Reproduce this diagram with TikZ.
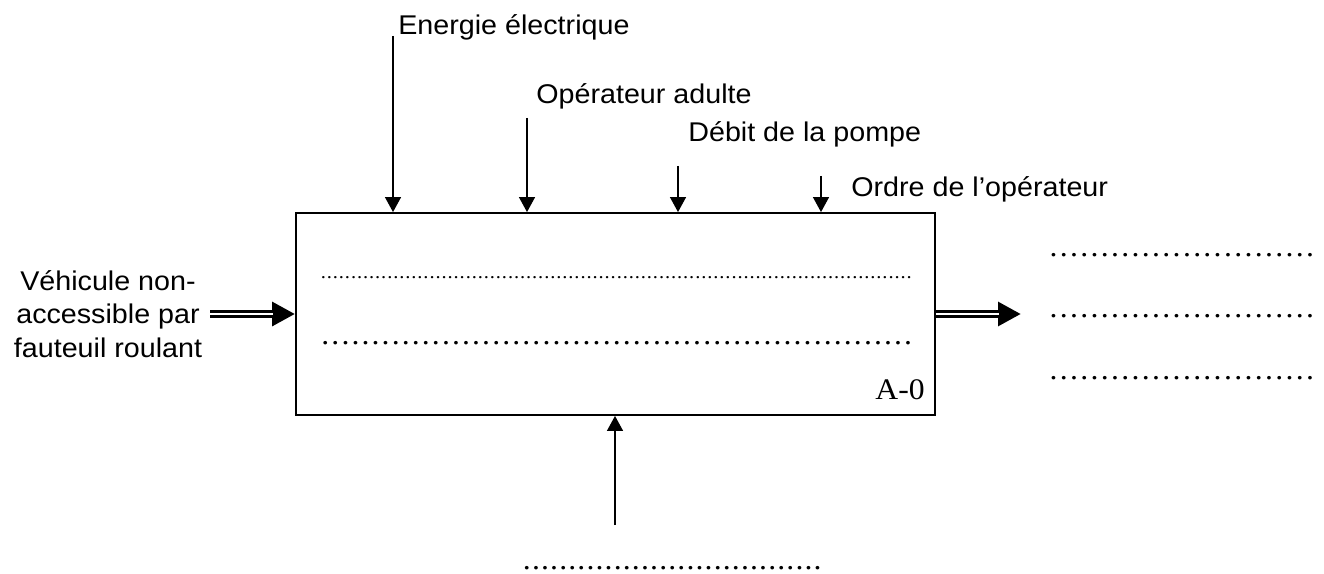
\documentclass[tikz,border=0pt]{standalone}
\usepackage{fontspec}
\setmainfont{Liberation Sans}[FakeStretch=1.06]
\newfontfamily\tnr{Liberation Serif}[FakeStretch=1.06]
\usepackage{tikz}
\usetikzlibrary{arrows.meta, positioning}
% a row of dots to be filled in
\newcommand{\dotrow}[2]{\hbox to #1{\xleaders\hbox to #2{\hss.\hss}\hfill}}

\begin{document}
\begin{tikzpicture}[x=0.02cm, y=-0.02cm,
    every node/.style={font=\fontsize{15.4}{19}\selectfont},
    lbl/.style={anchor=base west, inner sep=0pt},
    ctrl/.style={line width=0.8pt, -{Triangle[length=0.3cm, width=0.32cm]}},
    flowtip/.style={line width=0.17cm, -{Triangle[length=0.46cm, width=0.46cm]}},
    flowgap/.style={white, line width=0.055cm, shorten >=0.44cm},
    dots/.style={anchor=west, inner sep=0pt, font=\tnr\fontsize{17}{17}\selectfont}]
  \useasboundingbox (0,0) rectangle (1324,574);
  % A-0 box
  \node[draw, line width=1.1pt, minimum width=12.78cm, minimum height=4.04cm, inner sep=0pt] (box) at (615.5,314) {};
  \node[anchor=base east, inner sep=0pt, font=\tnr\fontsize{17}{17}\selectfont] (aid) at (925,399) {A-0};
  \node[dots, font=\tnr\fontsize{11}{11}\selectfont] (fn1) at (320,278) {\dotrow{11.84cm}{0.12cm}};
  \node[dots] (fn2) at (320,343) {\dotrow{11.86cm}{0.2cm}};
  % controls on top
  \node[lbl] (ee) at (398,35)  {Energie électrique};
  \node[lbl] (oa) at (536,104) {Opérateur adulte};
  \node[lbl] (dp) at (688,142) {Débit de la pompe};
  \node[lbl] (oo) at (851,196) {Ordre de l’opérateur};
  \coordinate (ee0) at (393,36);
  \coordinate (oa0) at (527,118);
  \coordinate (dp0) at (678,166);
  \coordinate (oo0) at (821,176);
  \foreach \c in {ee0,oa0,dp0,oo0}
    \draw[ctrl] (\c) -- (\c |- box.north);
  % input
  \node[align=center, inner xsep=0.16cm, inner ysep=0pt] (vin) at (108,314) {Véhicule non-\\accessible par\\fauteuil roulant};
  \draw[flowtip] (vin.east) -- (box.west);
  \draw[flowgap] (vin.east) -- (box.west);
  % output
  \coordinate (outtip) at (1021,314);
  \draw[flowtip] (box.east) -- (outtip);
  \draw[flowgap] (box.east) -- (outtip);
  \node[dots] (out1) at (1048,255) {\dotrow{5.34cm}{0.198cm}};
  \node[dots] (out2) at (1048,316) {\dotrow{5.34cm}{0.198cm}};
  \node[dots] (out3) at (1048,378) {\dotrow{5.34cm}{0.198cm}};
  % mechanism
  \coordinate (mec0) at (615,525);
  \draw[ctrl] (mec0) -- (mec0 |- box.south);
  \node[dots] (mec) at (522,568) {\dotrow{6cm}{0.18cm}};
\end{tikzpicture}
\end{document}
